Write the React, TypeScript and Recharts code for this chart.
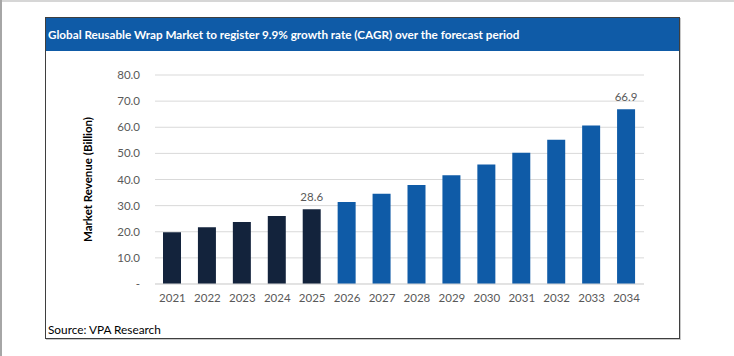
import React from 'react';
import { BarChart, Bar, XAxis, YAxis, CartesianGrid, Cell, LabelList } from 'recharts';

const years = ['2021', '2022', '2023', '2024', '2025', '2026', '2027', '2028', '2029', '2030', '2031', '2032', '2033', '2034'];
const revenue = [19.8, 21.7, 23.7, 26.0, 28.6, 31.4, 34.5, 37.9, 41.6, 45.7, 50.2, 55.2, 60.7, 66.9];
const historicalYears = ['2021', '2022', '2023', '2024', '2025'];
const labeledYears = ['2025', '2034'];
const yTicks = [0, 10, 20, 30, 40, 50, 60, 70, 80];

const title = 'Global Reusable Wrap Market to register 9.9% growth rate (CAGR) over the forecast period';
const yAxisTitle = 'Market Revenue (Billion)';
const source = 'Source: VPA Research';

const DARK = '#13233C';
const BLUE = '#0F5BA7';
const FONT = 'Lato, "Open Sans", sans-serif';

const data = years.map((y, i) => ({ year: y, value: revenue[i] }));

const fmtTick = (v: number) => (v === 0 ? '-' : v.toFixed(1));

const renderLabel = (props: any) => {
  const { x, y, width, value, index } = props;
  if (!labeledYears.includes(years[index])) return null;
  return (
    <text x={x + width / 2} y={y - 8} textAnchor="middle" fontSize={11.5} fill="#595959" fontFamily={FONT}>
      {Number(value).toFixed(1)}
    </text>
  );
};

export default function App() {
  return (
    <div style={{ position: 'absolute', left: 0, top: 0, width: 734, height: 356, background: '#fff', fontFamily: FONT }}>
      <div style={{ position: 'absolute', left: 0, top: 0, width: 734, height: 2, background: '#d6d6d6' }} />
      <div style={{ position: 'absolute', left: 0, top: 0, width: 2, height: 356, background: '#a6a6a6' }} />
      <div
        style={{
          position: 'absolute',
          left: 45,
          top: 17,
          width: 635,
          height: 322,
          boxSizing: 'border-box',
          border: '1px solid #3f3f3f',
          boxShadow: '1px 1px 0 #c8c8c8',
          background: '#fff',
        }}
      >
        <div
          style={{
            position: 'absolute',
            left: 0,
            top: 0,
            right: 0,
            height: 33,
            background: BLUE,
            color: '#fff',
            fontWeight: 700,
            fontSize: 11.7,
            lineHeight: '33px',
            paddingLeft: 2,
            whiteSpace: 'nowrap',
          }}
        >
          {title}
        </div>
        <div style={{ position: 'absolute', left: 2, top: 305, fontSize: 11.8, color: '#000', lineHeight: '14px' }}>{source}</div>
      </div>
      <div style={{ position: 'absolute', left: 46, top: 51 }}>
        <BarChart width={633} height={260} data={data} margin={{ top: 24, right: 35, left: 34, bottom: 0 }}>
          <CartesianGrid vertical={false} stroke="#D9D9D9" />
          <XAxis
            dataKey="year"
            height={27}
            axisLine={{ stroke: '#D9D9D9' }}
            tickLine={false}
            tickMargin={4}
            tick={{ fontSize: 11.5, fill: '#595959', fontFamily: FONT }}
            interval={0}
          />
          <YAxis
            width={75}
            domain={[0, 80]}
            ticks={yTicks}
            tickFormatter={fmtTick}
            axisLine={false}
            tickLine={false}
            tickSize={6}
            tickMargin={9}
            tick={{ fontSize: 11.5, fill: '#595959', fontFamily: FONT }}
            label={{
              value: yAxisTitle,
              angle: -90,
              position: 'insideLeft',
              offset: 8,
              style: { textAnchor: 'middle', fontSize: 11.5, fontWeight: 700, fill: '#000', fontFamily: FONT },
            }}
          />
          <Bar dataKey="value" barSize={18} isAnimationActive={false}>
            {data.map((d) => (
              <Cell key={d.year} fill={historicalYears.includes(d.year) ? DARK : BLUE} />
            ))}
            <LabelList dataKey="value" content={renderLabel} />
          </Bar>
        </BarChart>
      </div>
    </div>
  );
}
